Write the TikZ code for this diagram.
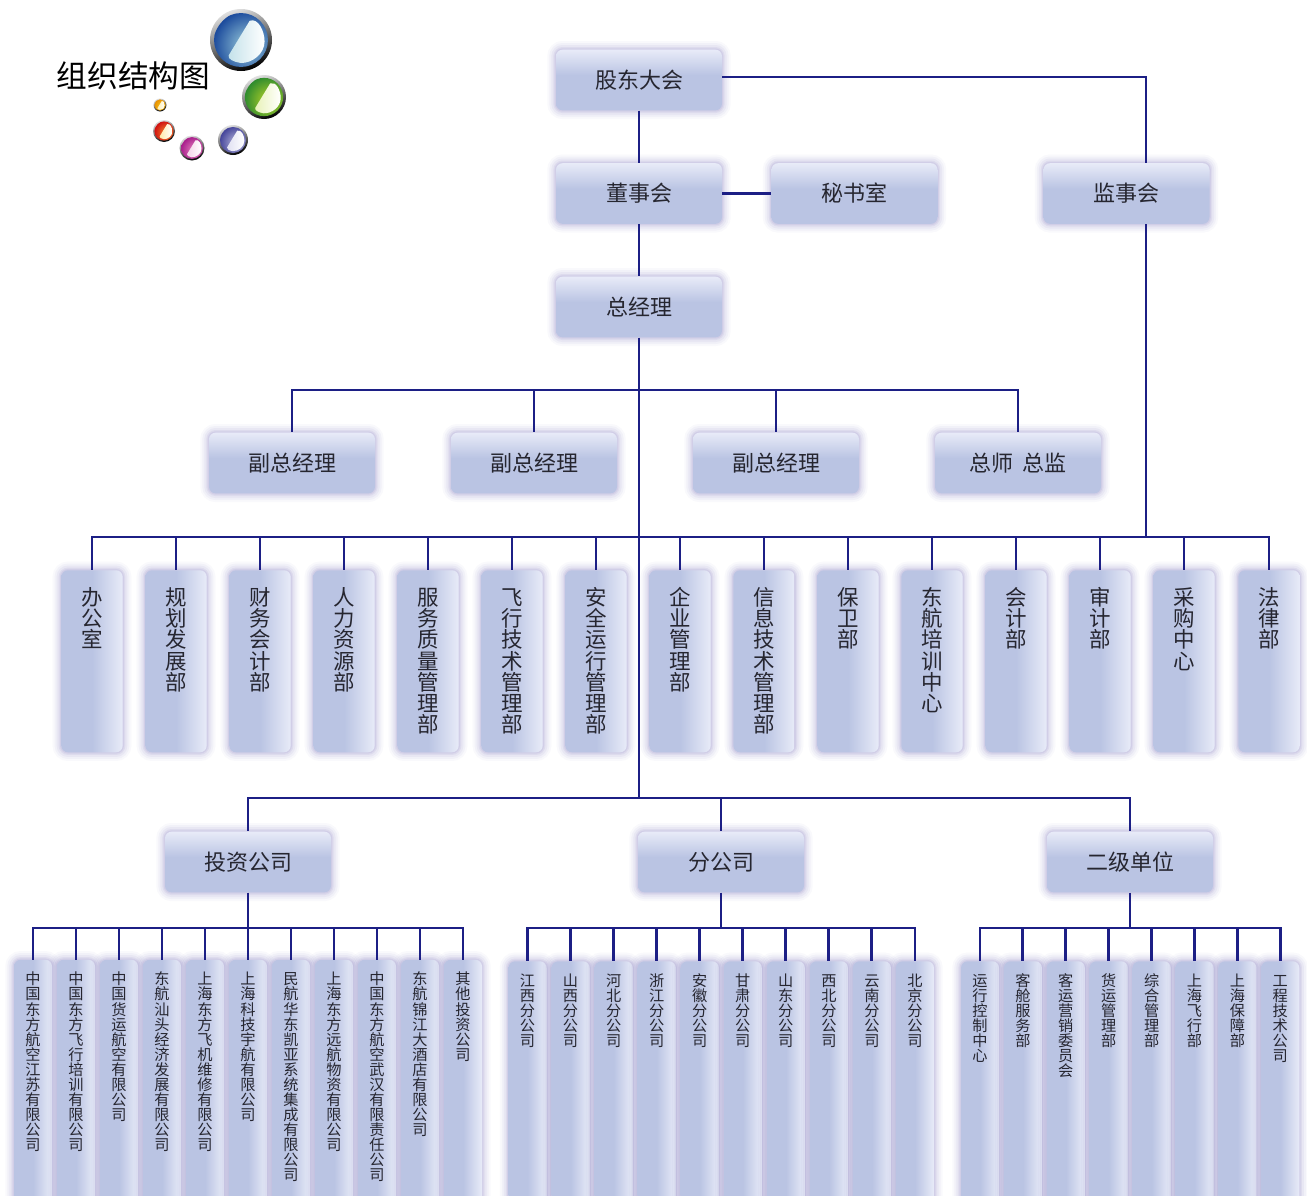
\documentclass[tikz,border=0pt]{standalone}
\usepackage{fontspec}
\setmainfont{Noto Sans CJK SC}
\usetikzlibrary{calc}
\definecolor{boxc}{HTML}{BAC4E3}
\definecolor{boxl}{HTML}{E8EBF8}
\definecolor{halo}{HTML}{8F8AC8}
\definecolor{linec}{HTML}{1C1F85}
\definecolor{textc}{HTML}{262630}
\definecolor{bd}{HTML}{1B4A9C}\definecolor{bm}{HTML}{9CCEDC}\definecolor{bp}{HTML}{C4E2EA}
\definecolor{gd}{HTML}{2E8B2E}\definecolor{gm}{HTML}{B8D428}\definecolor{gp}{HTML}{E8F2B8}
\definecolor{pd}{HTML}{45459A}\definecolor{pm}{HTML}{B8B8DC}\definecolor{pp}{HTML}{E0E0F2}
\definecolor{md}{HTML}{A81E8C}\definecolor{mm}{HTML}{E888C0}\definecolor{mp}{HTML}{F4D4E8}
\definecolor{rd}{HTML}{D01010}\definecolor{rm}{HTML}{F49030}\definecolor{rp}{HTML}{FFE8A8}
\definecolor{od}{HTML}{E89000}\definecolor{om}{HTML}{F8C820}\definecolor{op}{HTML}{FFF0B0}
\pgfdeclareverticalshading{hshade}{100bp}{color(0bp)=(boxc); color(54bp)=(boxc); color(75bp)=(boxl); color(100bp)=(boxl)}
\pgfdeclarehorizontalshading{vshade}{100bp}{color(0bp)=(boxc); color(50bp)=(boxc); color(75bp)=(boxl); color(100bp)=(boxl)}
\makeatletter
\def\stk#1#2#3{% text, size, pitch (pt)
  \fontsize{#2}{#3}\selectfont\baselineskip=#3\lineskiplimit=-100pt\relax
  \edef\stktmp{\noexpand\@tfor\noexpand\ch:=#1\noexpand\do}%
  \stktmp{\hbox to 1.3em{\hss\vrule width0pt height.88em depth.12em\ch\hss}}}
\makeatother
\tikzset{
  x=.75pt,y=-.75pt,
  softedge/.style={
    preaction={draw=halo,line width=13pt,opacity=.05},
    preaction={draw=halo,line width=10pt,opacity=.07},
    preaction={draw=halo,line width=7pt,opacity=.09},
    preaction={draw=halo,line width=4pt,opacity=.12},
    preaction={draw=halo,line width=2pt,opacity=.15}},
  basebox/.style={softedge,rounded corners=5pt,inner sep=0pt,text=textc},
  hbox/.style={basebox,shading=hshade,minimum width=124.5pt,minimum height=45.5pt,font=\fontsize{16.5pt}{18pt}\selectfont},
  dept/.style={basebox,shading=vshade,anchor=north,minimum width=46pt,minimum height=136.5pt},
  leaf/.style={basebox,shading=vshade,anchor=north,minimum width=28.5pt,minimum height=190pt},
  conn/.style={draw=linec,line width=2.15pt,line cap=rect},
  stem/.style={conn,line cap=butt},
}
\newcommand{\deptcell}[1]{\vbox to 136.5pt{\vskip 12.3pt\stk{#1}{16.1pt}{15.9pt}\vss}}
\newcommand{\leafcell}[1]{\vbox to 190pt{\vskip 8.8pt\stk{#1}{11.4pt}{11.3pt}\vss}}
% x, y, radius, dark colour, mid colour, pale colour
\newcommand{\bubble}[6]{%
  \shade[left color=black!12,right color=black,shading angle=20] (#1,#2) circle[radius=#3];
  \begin{scope}
    \clip (#1,#2) circle[radius=.87*#3];
    \shade[inner color=#5,outer color=#4] (#1+.2*#3,#2+.15*#3) circle[radius=1.1*#3];
    \shade[left color=#6,right color=white]
      (#1+.28*#3,#2-.62*#3) .. controls (#1+.55*#3,#2-.72*#3) and (#1+.76*#3,#2-.3*#3) .. (#1+.76*#3,#2+.05*#3)
      .. controls (#1+.76*#3,#2+.45*#3) and (#1+.35*#3,#2+.76*#3) .. (#1-.02*#3,#2+.74*#3)
      .. controls (#1-.25*#3,#2+.7*#3) and (#1-.42*#3,#2+.62*#3) .. (#1-.4*#3,#2+.5*#3) -- cycle;
  \end{scope}}
\begin{document}
\begin{tikzpicture}
\useasboundingbox (0,0) rectangle (1307,1196);
\clip (0,0) rectangle (1307,1196);
\fill[white] (0,0) rectangle (1307,1196);
% logo
\bubble{241}{40}{31}{bd}{bm}{bp}
\bubble{264}{97}{22}{gd}{gm}{gp}
\bubble{233}{140}{15}{pd}{pm}{pp}
\bubble{192}{148}{12.5}{md}{mm}{mp}
\bubble{164}{131}{11}{rd}{rm}{rp}
\bubble{160}{105}{6.5}{od}{om}{op}
\node[font=\fontsize{23pt}{26pt}\selectfont,text=black,inner sep=0pt] (title) at (133.5,76) {组织结构图};
% upper boxes
\node[hbox] (gd) at (639,80) {股东大会};
\node[hbox] (ds) at (639,193.5) {董事会};
\node[hbox] (ms) at (854.5,193.5) {秘书室};
\node[hbox] (js) at (1126.5,193.5) {监事会};
\node[hbox] (zj) at (639,307) {总经理};
\node[hbox] (v1) at (292,463) {副总经理};
\node[hbox] (v2) at (534,463) {副总经理};
\node[hbox] (v3) at (776,463) {副总经理};
\node[hbox] (v4) at (1018,463) {总师\hspace{7pt}总监};
\node[hbox] (tz) at (248,862) {投资公司};
\node[hbox] (fg) at (721,862) {分公司};
\node[hbox] (ej) at (1130,862) {二级单位};
% departments
\foreach \txt [count=\i] in {办公室,规划发展部,财务会计部,人力资源部,服务质量管理部,飞行技术管理部,安全运行管理部,企业管理部,信息技术管理部,保卫部,东航培训中心,会计部,审计部,采购中心,法律部}
  \node[dept] (d\i) at ({8+84*\i+(\i==15?1:0)},570) {\deptcell{\txt}};
% leaves
\foreach \txt [count=\i] in {中国东方航空江苏有限公司,中国东方飞行培训有限公司,中国货运航空有限公司,东航汕头经济发展有限公司,上海东方飞机维修有限公司,上海科技宇航有限公司,民航华东凯亚系统集成有限公司,上海东方远航物资有限公司,中国东方航空武汉有限责任公司,东航锦江大酒店有限公司,其他投资公司}
  \node[leaf] (a\i) at ({33+43*(\i-1)},959.5) {\leafcell{\txt}};
\foreach \txt [count=\i] in {江西分公司,山西分公司,河北分公司,浙江分公司,安徽分公司,甘肃分公司,山东分公司,西北分公司,云南分公司,北京分公司}
  \node[leaf] (b\i) at ({527.5+43.05*(\i-1)},961) {\leafcell{\txt}};
\foreach \txt [count=\i] in {运行控制中心,客舱服务部,客运营销委员会,货运管理部,综合管理部,上海飞行部,上海保障部,工程技术公司}
  \node[leaf] (c\i) at ({980+42.9*(\i-1)},961) {\leafcell{\txt}};
% buses
\coordinate (busv) at (639,390);
\coordinate (busd) at (639,537);
\coordinate (busu) at (639,798);
\coordinate (busa) at (248,928);
\coordinate (busb) at (721,928);
\coordinate (busc) at (1130,928);
\coordinate (jstop) at (1146,163);
\coordinate (jsbot) at (1146,224);
\coordinate (jsbus) at (1146,537);
\coordinate (gdr) at (722,77);
\coordinate (gdc) at (1146,77);
% connectors
\draw[stem] (gd.south) -- (ds.north);
\draw[stem] (ds.south) -- (zj.north);
\draw[stem] (ds.east) -- (ms.west);
\draw[stem] (gdr) -- (gdc) -- (jstop);
\draw[stem] (jsbot) -- (jsbus);
\draw[stem] (zj.south) -- (busu);
\draw[conn] (busv -| v1.north) -- (busv -| v4.north);
\foreach \n in {v1,v2,v3,v4} \draw[stem] (busv -| \n.north) -- (\n.north);
\draw[conn] (busd -| d1.north) -- (busd -| d15.north);
\foreach \i in {1,...,15} \draw[stem] (busd -| d\i.north) -- (d\i.north);
\draw[conn] (busu -| tz.north) -- (busu -| ej.north);
\foreach \n in {tz,fg,ej} \draw[stem] (busu -| \n.north) -- (\n.north);
\draw[stem] (tz.south) -- (busa);
\draw[stem] (fg.south) -- (busb);
\draw[stem] (ej.south) -- (busc);
\draw[conn] (busa -| a1.north) -- (busa -| a11.north);
\foreach \i in {1,...,11} \draw[stem] (busa -| a\i.north) -- (a\i.north);
\draw[conn] (busb -| b1.north) -- (busb -| b10.north);
\foreach \i in {1,...,10} \draw[stem] (busb -| b\i.north) -- (b\i.north);
\draw[conn] (busc -| c1.north) -- (busc -| c8.north);
\foreach \i in {1,...,8} \draw[stem] (busc -| c\i.north) -- (c\i.north);
\end{tikzpicture}
\end{document}
